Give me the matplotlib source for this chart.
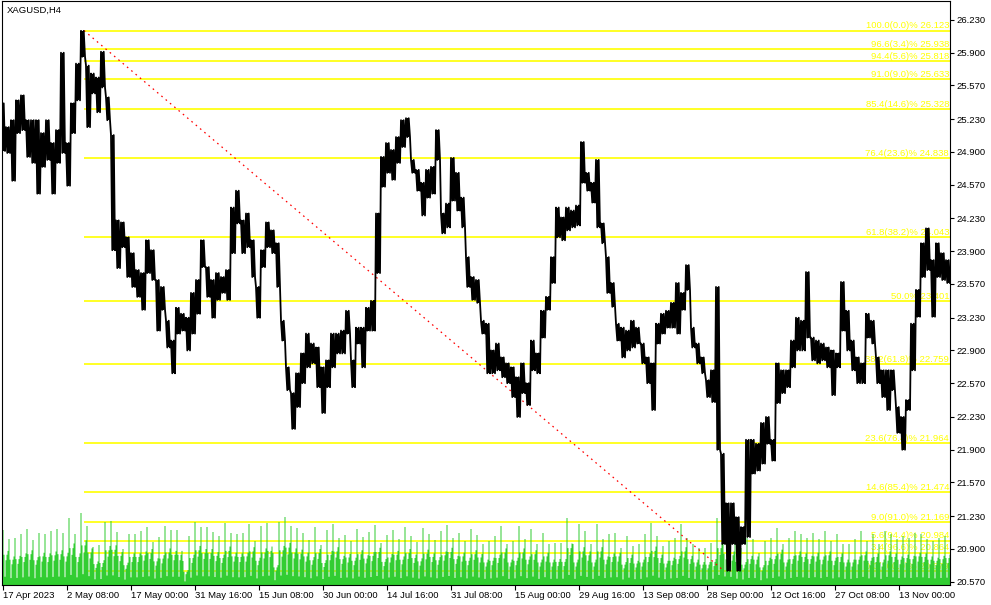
import numpy as np
import matplotlib
matplotlib.use("Agg")
import matplotlib.pyplot as plt

plt.rcParams['font.family'] = ['Liberation Sans', 'DejaVu Sans']

# XAGUSD H4 - maxima e minima, uma leitura a cada 5 barras
passo_barras = 5
maximas = [25.39, 25.15, 25.22, 25.42, 25.47, 25.22, 25.22, 25.22, 25.09, 25.22,
           24.99, 25.12, 25.90, 24.99, 25.39, 25.79, 26.12, 25.77, 25.69, 25.65,
           25.91, 25.45, 25.07, 24.21, 24.19, 24.04, 23.88, 23.71, 23.68, 24.01,
           23.91, 23.61, 23.54, 23.20, 23.00, 23.33, 23.27, 23.23, 23.48, 23.61,
           24.01, 23.74, 23.61, 23.68, 23.64, 23.71, 24.34, 24.51, 24.21, 24.28,
           24.01, 23.54, 23.91, 24.19, 24.11, 23.98, 23.20, 22.73, 22.47, 22.67,
           22.87, 23.07, 22.97, 22.93, 22.73, 22.80, 23.07, 23.07, 23.10, 23.30,
           22.80, 23.13, 23.13, 23.33, 23.40, 24.28, 24.85, 24.99, 24.92, 25.05,
           25.22, 25.24, 24.82, 24.72, 24.59, 24.72, 24.75, 25.12, 24.28, 24.38,
           24.84, 24.69, 24.44, 23.84, 23.64, 23.61, 23.20, 23.17, 22.90, 22.97,
           22.83, 22.77, 22.73, 22.63, 22.77, 22.57, 23.00, 22.87, 23.30, 23.44,
           23.84, 24.34, 24.24, 24.34, 24.31, 24.36, 25.00, 24.69, 24.59, 24.82,
           24.18, 23.84, 23.58, 23.17, 23.13, 23.10, 23.20, 23.13, 22.97, 22.83,
           22.77, 23.17, 23.27, 23.30, 23.38, 23.58, 23.48, 23.76, 23.13, 22.97,
           22.83, 22.60, 22.70, 23.54, 21.86, 21.36, 21.36, 21.22, 21.12, 22.00,
           22.00, 21.96, 22.17, 22.23, 22.00, 22.77, 22.70, 22.70, 23.00, 23.23,
           23.20, 23.69, 23.03, 23.00, 22.97, 22.93, 22.90, 22.87, 23.59, 23.30,
           23.00, 22.83, 22.77, 23.27, 23.20, 22.83, 22.70, 22.70, 22.70, 22.33,
           22.23, 22.40, 23.17, 23.51, 23.98, 24.13, 23.81, 23.98, 23.88, 23.81]
minimas = [24.91, 24.89, 24.61, 25.09, 25.12, 24.85, 24.79, 24.48, 24.75, 24.82,
           24.48, 24.79, 24.89, 24.56, 25.09, 25.42, 25.86, 25.15, 25.49, 25.30,
           25.55, 25.22, 23.91, 23.73, 23.94, 23.64, 23.54, 23.44, 23.31, 23.68,
           23.61, 23.10, 23.31, 22.93, 22.67, 23.07, 23.10, 22.90, 23.07, 23.27,
           23.74, 23.44, 23.23, 23.41, 23.48, 23.41, 23.88, 24.18, 23.88, 23.94,
           23.64, 23.23, 23.74, 23.94, 23.88, 23.54, 23.00, 22.50, 22.11, 22.33,
           22.57, 22.73, 22.77, 22.53, 22.27, 22.53, 22.73, 22.87, 22.87, 23.07,
           22.53, 22.97, 22.73, 23.10, 23.10, 23.68, 24.55, 24.69, 24.62, 24.79,
           24.95, 25.05, 24.69, 24.51, 24.26, 24.44, 24.48, 24.82, 24.08, 24.14,
           24.41, 24.31, 24.14, 23.54, 23.41, 23.38, 23.07, 22.67, 22.67, 22.70,
           22.63, 22.57, 22.43, 22.23, 22.47, 22.35, 22.70, 22.67, 23.03, 23.31,
           23.58, 24.04, 24.01, 24.11, 24.14, 24.16, 24.59, 24.51, 24.39, 24.14,
           23.98, 23.48, 23.34, 23.00, 22.83, 22.90, 22.93, 22.97, 22.77, 22.57,
           22.30, 22.97, 23.07, 23.13, 23.13, 23.07, 23.31, 23.51, 22.93, 22.77,
           22.67, 22.43, 22.38, 21.90, 20.95, 20.68, 20.95, 20.68, 20.95, 21.02,
           21.66, 21.69, 21.76, 21.96, 21.79, 22.37, 22.47, 22.53, 22.73, 22.90,
           22.90, 23.03, 22.80, 22.77, 22.80, 22.73, 22.45, 22.73, 23.10, 22.90,
           22.70, 22.57, 22.57, 23.03, 22.97, 22.57, 22.43, 22.30, 22.50, 22.07,
           21.90, 22.30, 22.70, 23.24, 23.64, 23.71, 23.24, 23.64, 23.61, 23.58]

# volume da barra mais forte de cada dia (barra das 16:00)
volume_pico = [55, 46, 47, 51, 56, 45, 52, 51, 54, 56, 52, 67, 51, 72, 59, 38, 40, 63, 64, 53,
               36, 51, 51, 54, 58, 43, 48, 59, 55, 55, 24, 49, 63, 58, 58, 53, 49, 62, 52, 51,
               52, 61, 44, 59, 62, 32, 63, 68, 59, 57, 52, 45, 58, 40, 55, 61, 47, 50, 44, 56,
               48, 53, 60, 42, 50, 55, 46, 58, 49, 43, 57, 51, 45, 54, 60, 47, 52, 44, 56, 50,
               41, 44, 49, 59, 41, 44, 59, 46, 56, 41, 52, 41, 42, 42, 67, 41, 61, 54, 41, 61,
               46, 51, 52, 37, 49, 39, 41, 51, 62, 49, 39, 44, 47, 61, 47, 41, 37, 37, 42, 67,
               57, 54, 42, 37, 47, 46, 32, 44, 47, 57, 41, 47, 54, 51, 47, 52, 46, 54, 44, 51,
               41, 41, 46, 54, 44, 51, 41, 54, 51, 46, 49, 47, 52, 51, 46, 44, 47, 49]
# peso das 6 barras H4 de cada dia, a partir da barra das 16:00
perfil_dia = [1.0, 0.55, 0.15, 0.45, 0.55, 0.62]
volume_teto = 584

# niveis de Fibonacci
fib_niveis = [100.0, 96.6, 94.4, 91.0, 85.4, 76.4, 61.8, 50.0, 38.2, 23.6, 14.6, 9.0, 5.6, 3.4, 0.0]
fib_precos = [26.123, 25.938, 25.818, 25.633, 25.328, 24.838, 24.043, 23.401, 22.759,
              21.964, 21.474, 21.169, 20.984, 20.864, 20.679]
fib_barra_topo = 81
fib_barra_fundo = 721

precos_eixo = [26.230, 25.900, 25.570, 25.230, 24.900, 24.570, 24.230, 23.900, 23.570,
               23.230, 22.900, 22.570, 22.230, 21.900, 21.570, 21.230, 20.900, 20.570]
datas_eixo = ['17 Apr 2023', '2 May 08:00', '17 May 00:00', '31 May 16:00', '15 Jun 08:00',
              '30 Jun 00:00', '14 Jul 16:00', '31 Jul 08:00', '15 Aug 00:00', '29 Aug 16:00',
              '13 Sep 08:00', '28 Sep 00:00', '12 Oct 16:00', '27 Oct 08:00', '13 Nov 00:00']
barras_por_rotulo = 64

fig = plt.figure(figsize=(9.91, 6.05), dpi=100)
ax = fig.add_axes([2 / 991, 20 / 605, 948 / 991, 584 / 605])
ax.set_xlim(-1, 947)
ax.set_ylim(20.537, 26.421)

# volumes (degraus preenchidos, uma barra por H4)
vol = (np.array(volume_pico)[:, None] * np.array(perfil_dia)[None, :]).ravel()
bordas = np.arange(len(vol) + 1) - 0.5
ax.stairs(vol / volume_teto, bordas, baseline=0, fill=True, color='#32CD32',
          transform=ax.get_xaxis_transform(), zorder=2)

# fibonacci
ax.hlines(fib_precos, fib_barra_topo, 947, color='#FFFF00', lw=1.2, zorder=1)
for n, p in zip(fib_niveis, fib_precos):
    if n == 50.0:
        rotulo = f'{n:.1f}% {p:.3f}'
    else:
        rotulo = f'{n:.1f}({100 - n:.1f})% {p:.3f}'
    ax.annotate(rotulo, xy=(1, p), xycoords=('axes fraction', 'data'), xytext=(-0.7, 1.6),
                textcoords='offset points', ha='right', va='baseline', color='#FFFF00',
                fontsize=6.8, zorder=1.5)
ax.plot([fib_barra_topo, fib_barra_fundo], [fib_precos[0], fib_precos[-1]], color='red',
        lw=0.9, linestyle=(0, (1.3, 3.2)), zorder=3)

# barras de preco: cada leitura vira um zigue-zague maxima/minima
x_am = np.arange(len(maximas)) * passo_barras
desloc = np.array([-2.0, -0.7, 0.7, 2.0])
xs = (x_am[:, None] + desloc[None, :]).ravel()
ys = np.column_stack([maximas, minimas, maximas, minimas]).ravel()
ax.plot(xs, ys, color='black', lw=1.3, zorder=5)
ax.vlines(x_am, minimas, maximas, color='black', lw=1.5, zorder=5)

# eixos
ax.yaxis.tick_right()
ax.set_yticks(precos_eixo)
ax.set_yticklabels([f'{p:.3f}' for p in precos_eixo])
ax.set_xticks(np.arange(len(datas_eixo)) * barras_por_rotulo)
ax.set_xticklabels(datas_eixo, ha='left')
ax.tick_params(axis='y', direction='out', length=3, width=0.8, pad=2, labelsize=6.8)
ax.tick_params(axis='x', direction='out', length=3.5, width=0.8, pad=0.5, labelsize=6.8)
for s in ax.spines.values():
    s.set_linewidth(0.8)
    s.set_color('black')

ax.text(5 / 948, 1 - 9 / 584, 'XAGUSD,H4', transform=ax.transAxes, fontsize=6.8,
        va='center', ha='left', zorder=6)

fig.savefig('out.png', dpi=100)
